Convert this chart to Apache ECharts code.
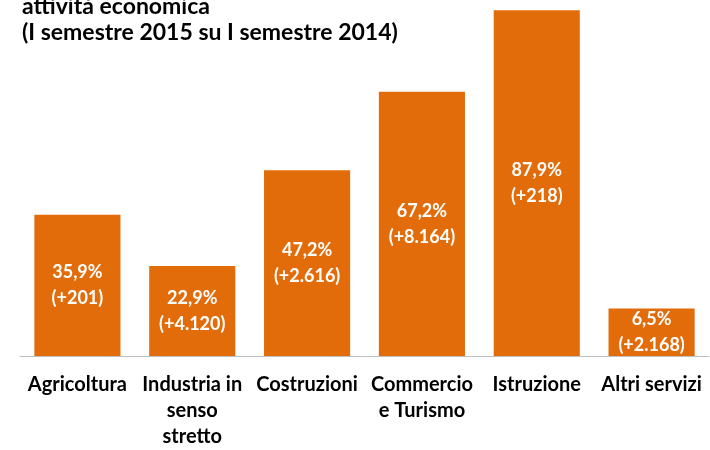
<!DOCTYPE html>
<html>
<head>
<meta charset="utf-8">
<script src="https://cdn.jsdelivr.net/npm/echarts@6/dist/echarts.min.js"></script>
<style>
  html, body { margin: 0; padding: 0; background: #fff; }
  #chart { width: 710px; height: 450px; }
</style>
</head>
<body>
<div id="chart"></div>
<script>
// categorie (con a capo come nell'originale)
const categories = ['Agricoltura', 'Industria in\nsenso\nstretto', 'Costruzioni', 'Commercio\ne Turismo', 'Istruzione', 'Altri servizi'];
// altezza delle barre come disegnate nel grafico
const barValues = [35.9, 22.9, 47.2, 67.2, 87.9, 12.1];
// etichette: variazione percentuale e assoluta
const pctLabels = ['35,9%', '22,9%', '47,2%', '67,2%', '87,9%', '6,5%'];
const deltaLabels = ['(+201)', '(+4.120)', '(+2.616)', '(+8.164)', '(+218)', '(+2.168)'];

const font = 'Lato, "Liberation Sans", sans-serif';
const chart = echarts.init(document.getElementById('chart'));

const option = {
  animation: false,
  graphic: [{
    type: 'text',
    left: 22,
    top: -6,
    style: {
      text: 'attività economica\n(I semestre 2015 su I semestre 2014)',
      font: 'bold 23px ' + font,
      fill: '#000',
      lineHeight: 26
    }
  }],
  grid: { left: 20, right: 1, top: 2, bottom: 92 },
  xAxis: {
    type: 'category',
    data: categories,
    axisLine: { lineStyle: { color: '#bfbfbf' } },
    axisTick: { length: 7, lineStyle: { color: '#bfbfbf' } },
    axisLabel: {
      interval: 0,
      margin: 16,
      color: '#000',
      fontFamily: font,
      fontWeight: 'bold',
      fontSize: 20,
      lineHeight: 26
    }
  },
  yAxis: {
    type: 'value',
    min: 0,
    max: 90,
    show: false
  },
  series: [{
    type: 'bar',
    data: barValues,
    barWidth: '75%',
    itemStyle: { color: '#e36c0a' },
    label: {
      show: true,
      position: 'inside',
      color: '#fff',
      fontFamily: font,
      fontWeight: 'bold',
      fontSize: 18,
      lineHeight: 26,
      formatter: p => pctLabels[p.dataIndex] + '\n' + deltaLabels[p.dataIndex]
    }
  }]
};
chart.setOption(option);
</script>
</body>
</html>
